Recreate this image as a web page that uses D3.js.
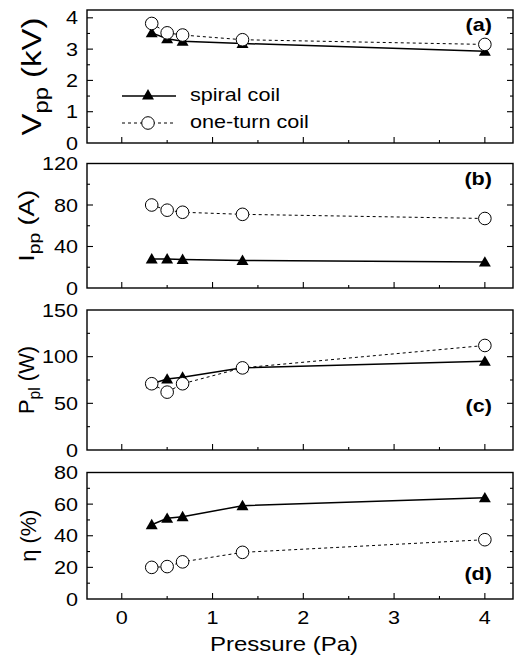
<!DOCTYPE html>
<html><head><meta charset="utf-8">
<script src="https://cdn.jsdelivr.net/npm/d3@7"></script>
<style>body{margin:0;background:#fff}svg{display:block}text{font-family:"Liberation Sans",Arial,sans-serif;fill:#000}</style>
</head><body>
<script>
const pressure = [0.33, 0.5, 0.67, 1.33, 4.0];
const vppSpiral = [3.52, 3.33, 3.25, 3.18, 2.93];
const vppOneTurn = [3.82, 3.52, 3.45, 3.3, 3.15];
const ippSpiral = [28, 28, 27.5, 26.5, 25];
const ippOneTurn = [80, 75, 73, 71, 67];
const pplSpiral = [71, 76, 78, 88, 95];
const pplOneTurn = [71, 62, 71, 88, 112];
const etaSpiral = [47, 51, 52, 59, 64];
const etaOneTurn = [20, 20.5, 23.5, 29.5, 37.5];
const xTicks = [0, 1, 2, 3, 4];
const seriesNames = ["spiral coil", "one-turn coil"];

const panels = [
  {top: 10, bottom: 143, dom: [0, 4.25], ticks: [0,1,2,3,4], minor: 0.5, title: ["V","pp"," (kV)"], tfs: 27, tlen: 118, tx: 41, tag: "(a)", tagY: 31, s: vppSpiral, o: vppOneTurn},
  {top: 163.5, bottom: 288, dom: [0, 120], ticks: [0,40,80,120], minor: 20, title: ["I","pp"," (A)"], tfs: 22, tlen: 72, tx: 34, tag: "(b)", tagY: 185, s: ippSpiral, o: ippOneTurn},
  {top: 310, bottom: 450, dom: [0, 150], ticks: [0,50,100,150], minor: 25, title: ["P","pl"," (W)"], tfs: 22, tlen: 68, tx: 34, tag: "(c)", tagY: 412, s: pplSpiral, o: pplOneTurn},
  {top: 472.5, bottom: 599, dom: [0, 80], ticks: [0,20,40,60,80], minor: 10, title: ["η",""," (%)"], tfs: 22, tlen: 52, tx: 36, tag: "(d)", tagY: 580, s: etaSpiral, o: etaOneTurn}
];

const W = 519, H = 662, L = 87, R = 513, SX = 1.2;
const svg = d3.select("body").append("svg").attr("width", W).attr("height", H);
const x = d3.scaleLinear().domain([-0.383, 4.31]).range([L, R]);
const xMinor = d3.range(0, 4.01, 0.5);
const tri = d3.symbol().type(d3.symbolTriangle).size(62);

function stext(parent, px, py, anchor, size, str, weight) {
  const g = parent.append("g").attr("transform", `translate(${px},${py}) scale(${SX},1)`);
  return g.append("text").attr("text-anchor", anchor).attr("font-size", size)
    .attr("font-weight", weight || "normal").text(str);
}

panels.forEach((p, i) => {
  const y = d3.scaleLinear().domain(p.dom).range([p.bottom, p.top]);
  const g = svg.append("g");
  g.append("rect").attr("x", L).attr("y", p.top).attr("width", R - L).attr("height", p.bottom - p.top)
    .attr("fill", "none").attr("stroke", "#000").attr("stroke-width", 1.4);
  const yMinor = d3.range(p.dom[0], p.dom[1] + 1e-9, p.minor);
  yMinor.forEach(v => {
    if (v === p.dom[0] || v === p.dom[1]) return;
    const major = p.ticks.some(t => Math.abs(t - v) < 1e-9);
    const len = major ? 6 : 3;
    g.append("line").attr("x1", L).attr("x2", L + len).attr("y1", y(v)).attr("y2", y(v)).attr("stroke", "#000").attr("stroke-width", 1.1);
    g.append("line").attr("x1", R).attr("x2", R - len).attr("y1", y(v)).attr("y2", y(v)).attr("stroke", "#000").attr("stroke-width", 1.1);
  });
  p.ticks.forEach(t => {
    stext(g, L - 9, y(t) + 6.5, "end", 18, t);
  });
  xMinor.forEach(v => {
    const major = Math.abs(v - Math.round(v)) < 1e-9;
    const len = major ? 6 : 3;
    g.append("line").attr("x1", x(v)).attr("x2", x(v)).attr("y1", p.bottom).attr("y2", p.bottom - len).attr("stroke", "#000").attr("stroke-width", 1.1);
  });
  // y title (rotated, stretched along its length to fit)
  const tg = g.append("g");
  const tt = tg.append("text").attr("text-anchor", "middle").attr("font-size", p.tfs);
  tt.append("tspan").text(p.title[0]);
  if (p.title[1]) tt.append("tspan").attr("font-size", p.tfs * 0.72).attr("dy", p.tfs * 0.25).text(p.title[1]);
  tt.append("tspan").attr("dy", p.title[1] ? -p.tfs * 0.25 : 0).text(p.title[2]);
  const bw = tt.node().getBBox().width;
  const s = p.tlen / bw;
  tg.attr("transform", `translate(${p.tx},${(p.top + p.bottom) / 2}) rotate(-90) scale(${s},1)`);
  // tag
  stext(g, 492, p.tagY, "end", 18, p.tag, "bold");
  // series
  const line = d3.line().x((d, j) => x(pressure[j])).y(d => y(d));
  g.append("path").attr("d", line(p.s)).attr("fill", "none").attr("stroke", "#000").attr("stroke-width", 1.5);
  g.selectAll(".tri").data(p.s).join("path")
    .attr("transform", (d, j) => `translate(${x(pressure[j])},${y(d) + 1})`).attr("d", tri).attr("fill", "#000");
  g.append("path").attr("d", line(p.o)).attr("fill", "none").attr("stroke", "#000").attr("stroke-width", 1).attr("stroke-dasharray", "3,3");
  g.selectAll(".cir").data(p.o).join("circle")
    .attr("cx", (d, j) => x(pressure[j])).attr("cy", d => y(d)).attr("r", 6.3)
    .attr("fill", "#fff").attr("stroke", "#000").attr("stroke-width", 1);
  if (i === 0) {
    const lg = g.append("g");
    lg.append("line").attr("x1", 122).attr("x2", 176).attr("y1", 96).attr("y2", 96).attr("stroke", "#000").attr("stroke-width", 1.5);
    lg.append("path").attr("transform", "translate(148,96)").attr("d", tri).attr("fill", "#000");
    stext(lg, 190, 101, "start", 18, seriesNames[0]);
    lg.append("line").attr("x1", 122).attr("x2", 176).attr("y1", 123).attr("y2", 123).attr("stroke", "#000").attr("stroke-dasharray", "3,3");
    lg.append("circle").attr("cx", 148).attr("cy", 123).attr("r", 6.3).attr("fill", "#fff").attr("stroke", "#000");
    stext(lg, 190, 128, "start", 18, seriesNames[1]);
  }
  if (i === 3) {
    xTicks.forEach(t => stext(g, x(t), p.bottom + 25, "middle", 18, t));
    stext(g, 284, 651, "middle", 20, "Pressure (Pa)");
  }
});
</script>
</body></html>
